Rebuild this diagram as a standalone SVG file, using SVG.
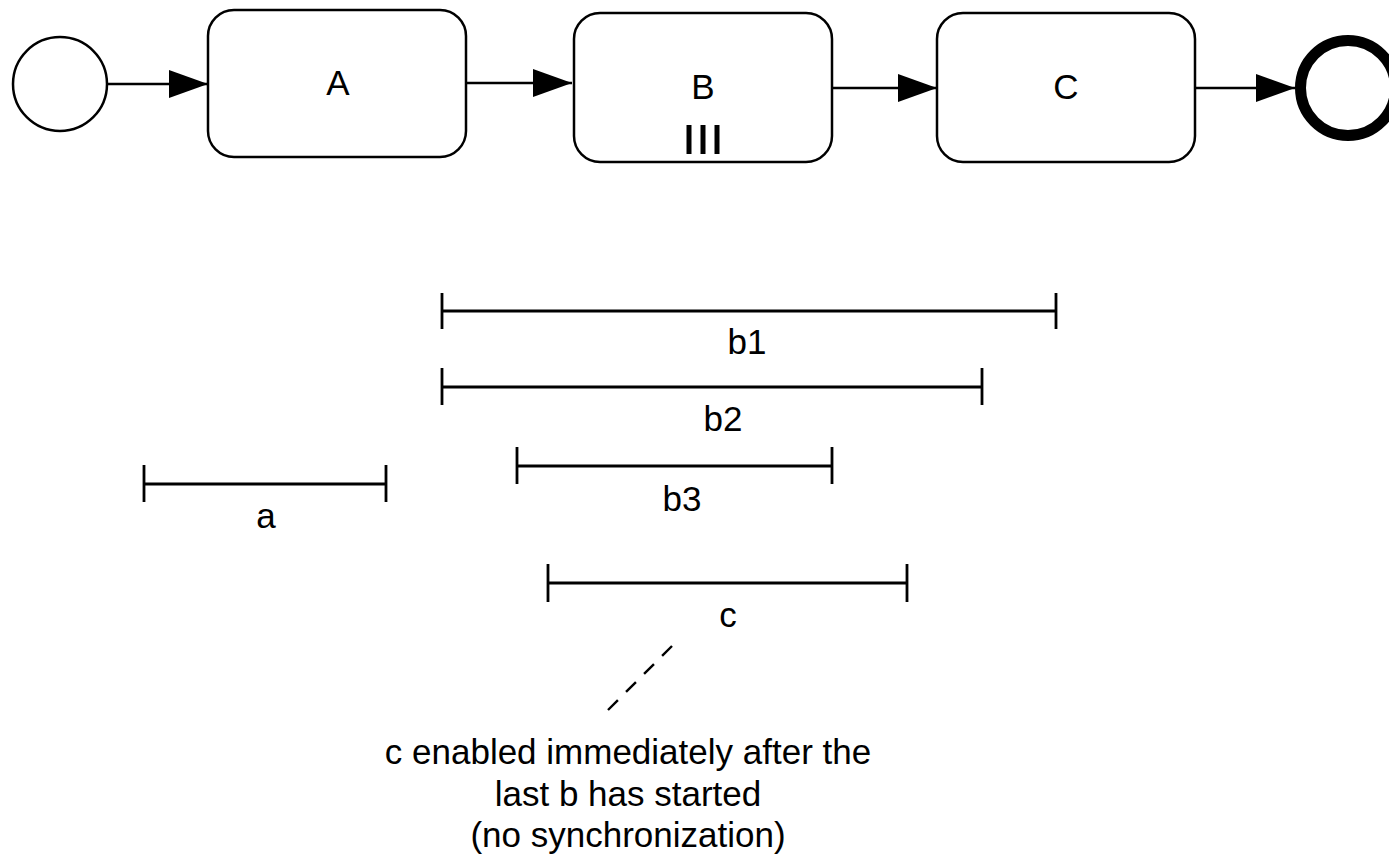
<svg xmlns="http://www.w3.org/2000/svg" width="1389" height="859" viewBox="0 0 1389 859">
  <style>
    .task { fill: #ffffff; stroke: #000000; stroke-width: 2.5; }
    .flow { fill: none; stroke: #000000; stroke-width: 2.4; }
    .span { fill: none; stroke: #000000; stroke-width: 2.8; }
    .lbl { font-family: "Liberation Sans", Arial, sans-serif; font-size: 35px; fill: #000000; text-anchor: middle; }
  </style>
  <defs>
    <marker id="arrow" markerUnits="userSpaceOnUse" markerWidth="40" markerHeight="30" refX="39" refY="14" orient="auto">
      <path d="M0,0 L39,14 L0,28 z" fill="#000000"/>
    </marker>
  </defs>
  <rect width="1389" height="859" fill="#ffffff"/>

  <!-- process flow -->
  <g id="start">
    <circle cx="60" cy="84" r="47" fill="#ffffff" stroke="#000000" stroke-width="2.5"/>
  </g>
  <g id="taskA">
    <rect class="task" x="208" y="10" width="258" height="147" rx="26" ry="26"/>
    <text class="lbl" x="338" y="95">A</text>
  </g>
  <g id="taskB">
    <rect class="task" x="574" y="13" width="258" height="149" rx="26" ry="26"/>
    <text class="lbl" x="703" y="99">B</text>
    <g stroke="#000000" stroke-width="5">
      <line x1="689" y1="125" x2="689" y2="154"/>
      <line x1="703" y1="125" x2="703" y2="154"/>
      <line x1="717" y1="125" x2="717" y2="154"/>
    </g>
  </g>
  <g id="taskC">
    <rect class="task" x="937" y="13" width="258" height="149" rx="26" ry="26"/>
    <text class="lbl" x="1066" y="99">C</text>
  </g>
  <g id="end">
    <circle cx="1348" cy="88" r="47.5" fill="#ffffff" stroke="#000000" stroke-width="11"/>
  </g>

  <g id="connectors">
    <line class="flow" x1="108" y1="84" x2="208" y2="84" marker-end="url(#arrow)"/>
    <line class="flow" x1="466" y1="83" x2="572" y2="83" marker-end="url(#arrow)"/>
    <line class="flow" x1="832" y1="88" x2="937" y2="88" marker-end="url(#arrow)"/>
    <line class="flow" x1="1195" y1="88" x2="1295" y2="88" marker-end="url(#arrow)"/>
  </g>

  <!-- execution intervals -->
  <g id="interval-b1">
    <path class="span" d="M442,293 V329 M442,311 H1056 M1056,293 V329"/>
    <text class="lbl" x="747" y="354">b1</text>
  </g>
  <g id="interval-b2">
    <path class="span" d="M442,368 V405 M442,387 H982 M982,368 V405"/>
    <text class="lbl" x="723" y="431">b2</text>
  </g>
  <g id="interval-b3">
    <path class="span" d="M517,447 V484 M517,466 H832 M832,447 V484"/>
    <text class="lbl" x="682" y="511">b3</text>
  </g>
  <g id="interval-a">
    <path class="span" d="M144,465 V502 M144,484 H386 M386,465 V502"/>
    <text class="lbl" x="266" y="528">a</text>
  </g>
  <g id="interval-c">
    <path class="span" d="M548,564 V602 M548,583 H907 M907,564 V602"/>
    <text class="lbl" x="728" y="627">c</text>
  </g>

  <!-- annotation -->
  <g id="note">
    <line x1="672" y1="646" x2="608" y2="710" stroke="#000000" stroke-width="2.4" stroke-dasharray="14 11.5"/>
    <text class="lbl" x="628" y="764">c enabled immediately after the</text>
    <text class="lbl" x="628" y="806">last b has started</text>
    <text class="lbl" x="628" y="847">(no synchronization)</text>
  </g>
</svg>
